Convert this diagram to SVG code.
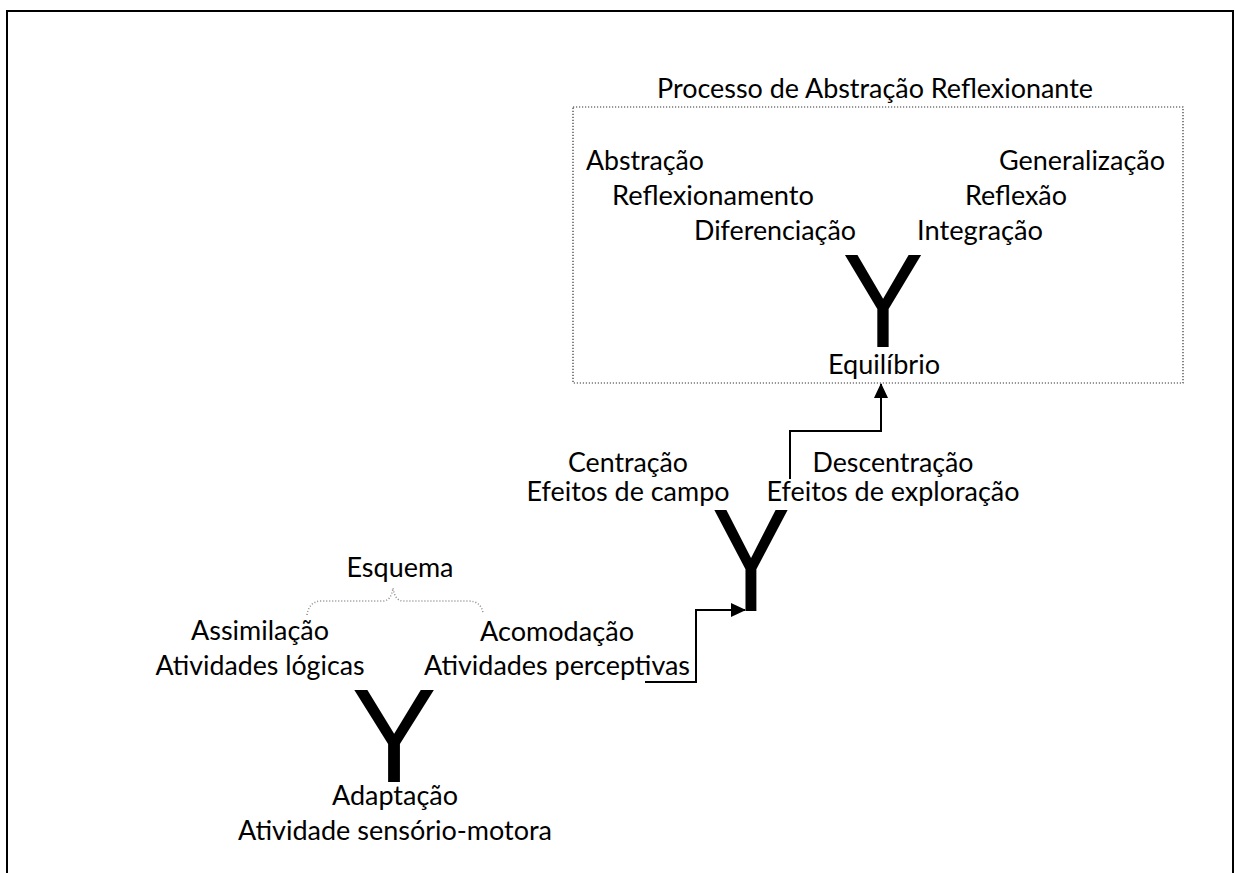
<svg xmlns="http://www.w3.org/2000/svg" width="1235" height="873" viewBox="0 0 1235 873">
<style>
  .t { font-family: Lato, "Liberation Sans", sans-serif; font-size: 26px; fill: #000; text-anchor: middle; }
  .y { font-family: "Liberation Sans", Arial, sans-serif; fill: #000; text-anchor: middle; }
  .conn { fill: none; stroke: #000; stroke-width: 2; }
</style>
<defs>
  <marker id="arrow" markerUnits="userSpaceOnUse" markerWidth="16" markerHeight="16" viewBox="0 0 16 16" refX="14" refY="8" orient="auto">
    <path d="M0,1 L15,8 L0,15 Z" fill="#000"/>
  </marker>
</defs>
<rect x="7" y="11" width="1226" height="900" fill="none" stroke="#000" stroke-width="2"/>

<g id="processo">
  <rect x="573" y="107" width="610" height="276" fill="none" stroke="#333" stroke-width="1.2" stroke-dasharray="1.2,1.8"/>
  <text class="t" x="875" y="98" textLength="436" lengthAdjust="spacingAndGlyphs">Processo de Abstração Reflexionante</text>
  <text class="t" x="645" y="170" textLength="118" lengthAdjust="spacingAndGlyphs">Abstração</text>
  <text class="t" x="1082" y="170" textLength="166" lengthAdjust="spacingAndGlyphs">Generalização</text>
  <text class="t" x="713" y="205" textLength="202" lengthAdjust="spacingAndGlyphs">Reflexionamento</text>
  <text class="t" x="1016" y="205" textLength="102" lengthAdjust="spacingAndGlyphs">Reflexão</text>
  <text class="t" x="775" y="240" textLength="162" lengthAdjust="spacingAndGlyphs">Diferenciação</text>
  <text class="t" x="980" y="240" textLength="126" lengthAdjust="spacingAndGlyphs">Integração</text>
  <text class="y" font-size="133" transform="translate(883,347) scale(0.92,1)">Y</text>
  <text class="t" x="884" y="374" textLength="112" lengthAdjust="spacingAndGlyphs">Equilíbrio</text>
</g>

<g id="centracao">
  <text class="t" x="628" y="472" textLength="120" lengthAdjust="spacingAndGlyphs">Centração</text>
  <text class="t" x="628" y="501" textLength="203" lengthAdjust="spacingAndGlyphs">Efeitos de campo</text>
  <text class="t" x="893" y="472" textLength="161" lengthAdjust="spacingAndGlyphs">Descentração</text>
  <text class="t" x="893" y="501" textLength="253" lengthAdjust="spacingAndGlyphs">Efeitos de exploração</text>
  <text class="y" font-size="147" transform="translate(751,611) scale(0.8,1)">Y</text>
</g>

<g id="esquema">
  <text class="t" x="400" y="577" textLength="107" lengthAdjust="spacingAndGlyphs">Esquema</text>
  <path d="M307,615 Q309,601 322,601 L383,601 Q391,601 393,588 Q395,601 403,601 L468,601 Q481,601 483,613" fill="none" stroke="#8a8a8a" stroke-width="1.5" stroke-dasharray="1,2"/>
  <text class="t" x="260" y="640" textLength="138" lengthAdjust="spacingAndGlyphs">Assimilação</text>
  <text class="t" x="260" y="675" textLength="209" lengthAdjust="spacingAndGlyphs">Atividades lógicas</text>
  <text class="t" x="557" y="641" textLength="154" lengthAdjust="spacingAndGlyphs">Acomodação</text>
  <text class="t" x="557" y="675" textLength="266" lengthAdjust="spacingAndGlyphs">Atividades perceptivas</text>
  <text class="y" font-size="133" transform="translate(394,782) scale(0.96,1)">Y</text>
  <text class="t" x="395" y="805" textLength="126" lengthAdjust="spacingAndGlyphs">Adaptação</text>
  <text class="t" x="395" y="840" textLength="314" lengthAdjust="spacingAndGlyphs">Atividade sensório-motora</text>
</g>

<g id="connectors">
  <path class="conn" d="M645,682 H696 V610 H745" marker-end="url(#arrow)"/>
  <path class="conn" d="M790,479 V431 H881 V384" marker-end="url(#arrow)"/>
</g>
</svg>
